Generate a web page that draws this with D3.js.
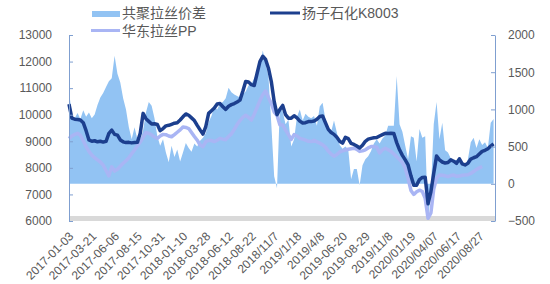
<!DOCTYPE html>
<html>
<head>
<meta charset="utf-8">
<script src="https://cdn.jsdelivr.net/npm/d3@7"></script>
<style>
  body { margin: 0; background: #fff; }
  svg { display: block; }
  text { font-family: "Liberation Sans", Arial, sans-serif; fill: #595959; }
  .legend text { font-family: "Liberation Sans", "Noto Sans CJK SC", sans-serif; }
</style>
</head>
<body>
<div id="chart"></div>
<script>
// x tick labels, one every 8 samples starting at sample 1
const tickLabels = [
  "2017-01-03", "2017-03-21", "2017-06-06", "2017-08-15", "2017-10-31",
  "2018-01-10", "2018-03-28", "2018-06-12", "2018-08-22", "2018/11/7",
  "2019/1/18", "2019/4/8", "2019-06-20", "2019-08-29", "2019/11/8",
  "2020/01/19", "2020/04/07", "2020/06/17", "2020/08/27"
];
const labelStart = 1;
const labelEvery = 8;

// 扬子石化K8003 (left axis)
const k8003 = [
  10400, 9870, 9830, 9820, 9800, 9700, 9400, 9050, 9000, 9020,
  8980, 9000, 8970, 9000, 9300, 9420, 9260, 9230, 9050, 8980,
  8950, 8960, 8940, 8950, 8960, 9300, 10050, 9850, 9750, 9650,
  9660, 9630, 9400, 9480, 9580, 9600, 9640, 9680, 9700, 9800,
  9920, 10030, 9980, 9880, 9780, 9600, 9430, 9270, 9550, 10050,
  10150, 10250, 10400, 10420, 10300, 10200, 10320, 10380, 10420, 10480,
  10550, 10880, 11250, 11230, 11130, 11100, 11550, 12000, 12200, 12080,
  11750, 11250, 10500, 10000, 10200, 10350, 10000, 9870, 9870, 9960,
  9880, 9760, 9690, 9700, 9740, 9740, 9760, 9830, 9930, 9950,
  9700, 9450, 9330, 9260, 9150, 9000, 8930, 9150, 9100, 8920,
  8880, 8820, 8750, 8850, 9000, 9080, 9110, 9130, 9140, 9200,
  9250, 9300, 9290, 9300, 9290, 8950, 8680, 8470, 8300, 8110,
  7700, 7350, 7350, 7560, 7640, 7650, 6650, 7100, 7800, 8450,
  8300, 8220, 8180, 8200, 8300, 8250, 8170, 8340, 8150, 8110,
  8170, 8330, 8380, 8420, 8520, 8620, 8660, 8720, 8820, 8900
];

// 华东拉丝PP (left axis)
const ppEast = [
  9100, 9200, 9260, 9300, 9230, 9020, 8800, 8620, 8480, 8380,
  8300, 8220, 8100, 7900, 7700, 8040, 7880, 7950, 8060, 8170,
  8270, 8380, 8530, 8670, 8820, 8970, 9150, 9330, 9300, 9240,
  9160, 9110, 9200, 9260, 9250, 9200, 9170, 9250, 9340, 9430,
  9540, 9520, 9480, 9330, 9180, 9040, 8860, 8800, 8990, 9040,
  9030, 8990, 9040, 9110, 9080, 9060, 9180, 9280, 9450, 9630,
  9780, 9900, 9980, 9900, 9800, 10020, 10270, 10530, 10750, 10900,
  10650, 10420, 10100, 9980, 9620, 9610, 9420, 9250, 9070, 9250,
  9200, 9110, 9080, 9040, 9000, 8990, 9040, 8980, 8930, 8870,
  8780, 8630, 8520, 8440, 8500, 8600, 8640, 8670, 8700, 8720,
  8740, 8700, 8620, 8640, 8680, 8750, 8800, 8800, 8780, 8560,
  8680, 8740, 8680, 8620, 8520, 8420, 8310, 8200, 7980, 7600,
  7150, 7000, 7100, 7160, 7110, 6850, 6100, 6300, 7200, 7620,
  7730, 7720, 7700, 7670, 7710, 7730, 7680, 7690, 7720, 7730,
  7740, 7790, 7860, 7940, 8000, 8050, null, null, null, null
];

// 共聚拉丝价差 (right axis)
const spread = [
  1250, 920, 880, 950, 870, 990, 900, 960, 880, 930,
  1060, 1160, 1220, 1300, 1380, 1420, 1720, 1480, 1360, 1150,
  1000, 760, 600, 760, 600, 580, 720, 960, 1100, 1050,
  880, 640, 510, 600, 420, 290, 510, 360, 460, 300,
  420, 550, 480, 430, 540, 500, 580, 620, 680, 830,
  910, 1040, 1000, 1080, 1100, 1150, 1290, 1230, 1200, 1180,
  1160, 1200, 1240, 1320, 1340, 1420, 1500, 1580, 1790, 1620,
  1440, 800, 100, -60, 1040, 970, 800, 860, 500, 600,
  900, 1000, 850, 940, 900, 880, 910, 780, 1040, 1090,
  860, 720, 700, 850, 690, 520, 470, 500, 460, 60,
  200, 200, -20, 250, 330, 370, 440, 540, 600, 540,
  610, 650, 780, 780, 780, 1450, 800, 700, 510, 330,
  640, 620, 300, 735, 620, 640, -480, -100, 800, 1100,
  600, 820, 450, 420, 340, 320, 320, 330, 290, 240,
  330, 560, 620, 480, 600, 520, 560, 480, 820, 870
];

const leftTicks = [6000, 7000, 8000, 9000, 10000, 11000, 12000, 13000];
const rightTicks = [-500, 0, 500, 1000, 1500, 2000];

const colors = {
  spread: "#92c3f3",
  k8003: "#1c3f8e",
  pp: "#a9b5f4",
  axis: "#7f9fd0",
  floor: "#d9d9d9"
};

const width = 550, height = 284;
const plot = { left: 69, right: 495, top: 35, bottom: 221 };

const svg = d3.select("#chart").append("svg")
  .attr("width", width)
  .attr("height", height);

// Scales
const xScale = d3.scaleLinear()
  .domain([0, k8003.length - 0.5])
  .range([plot.left, plot.right]);
const yLeft = d3.scaleLinear()
  .domain([6000, 13000])
  .range([plot.bottom, plot.top]);
const yRight = d3.scaleLinear()
  .domain([-500, 2000])
  .range([plot.bottom, plot.top]);

// floor band
svg.append("rect")
  .attr("x", plot.left)
  .attr("y", plot.bottom - 5)
  .attr("width", plot.right - plot.left)
  .attr("height", 5)
  .attr("fill", colors.floor);

// spread area
const area = d3.area()
  .x((d, i) => xScale(i))
  .y0(yRight(0))
  .y1((d) => yRight(d));
svg.append("path")
  .datum(spread)
  .attr("fill", colors.spread)
  .attr("d", area);

// lines
const line = (scale) => d3.line()
  .defined((d) => d !== null)
  .x((d, i) => xScale(i))
  .y((d) => scale(d));

svg.append("path")
  .datum(ppEast)
  .attr("fill", "none")
  .attr("stroke", colors.pp)
  .attr("stroke-width", 3.5)
  .attr("stroke-linejoin", "round")
  .attr("d", line(yLeft));

svg.append("path")
  .datum(k8003)
  .attr("fill", "none")
  .attr("stroke", colors.k8003)
  .attr("stroke-width", 3.5)
  .attr("stroke-linejoin", "round")
  .attr("d", line(yLeft));

// Axes
const leftAxis = d3.axisLeft(yLeft)
  .tickValues(leftTicks)
  .tickSizeInner(-4)
  .tickSizeOuter(0)
  .tickPadding(17)
  .tickFormat(d3.format("d"));
const leftG = svg.append("g")
  .attr("transform", `translate(${plot.left},0)`)
  .call(leftAxis);

const rightAxis = d3.axisRight(yRight)
  .tickValues(rightTicks)
  .tickSizeInner(-4)
  .tickSizeOuter(0)
  .tickPadding(13)
  .tickFormat(d3.format("d"));
const rightG = svg.append("g")
  .attr("transform", `translate(${plot.right},0)`)
  .call(rightAxis);

[leftG, rightG].forEach((g) => {
  g.select(".domain").attr("stroke", colors.axis);
  g.selectAll(".tick line").attr("stroke", colors.axis);
  g.selectAll(".tick text")
    .attr("fill", "#595959")
    .style("font-size", "12px");
});

const xAxis = d3.axisBottom(xScale)
  .tickValues(tickLabels.map((d, i) => labelStart + i * labelEvery))
  .tickSize(0)
  .tickFormat((d) => tickLabels[(d - labelStart) / labelEvery]);
const xG = svg.append("g")
  .attr("transform", `translate(0,${plot.bottom})`)
  .call(xAxis);
xG.select(".domain").remove();
xG.selectAll(".tick text")
  .attr("y", 0)
  .attr("dy", 0)
  .attr("text-anchor", "end")
  .attr("transform", "translate(2,16) rotate(-45)")
  .attr("fill", "#595959")
  .style("font-size", "12px");

// Legend
const legend = svg.append("g").attr("class", "legend").style("font-size", "14px");
legend.append("rect")
  .attr("x", 92).attr("y", 11)
  .attr("width", 28).attr("height", 6)
  .attr("fill", colors.spread);
legend.append("text")
  .attr("x", 122).attr("y", 13.5)
  .attr("dy", "0.35em")
  .text("共聚拉丝价差");

legend.append("line")
  .attr("x1", 270).attr("x2", 300)
  .attr("y1", 13).attr("y2", 13)
  .attr("stroke", colors.k8003)
  .attr("stroke-width", 3);
legend.append("text")
  .attr("x", 302).attr("y", 13.5)
  .attr("dy", "0.35em")
  .text("扬子石化K8003");

legend.append("line")
  .attr("x1", 91).attr("x2", 120)
  .attr("y1", 30.5).attr("y2", 30.5)
  .attr("stroke", colors.pp)
  .attr("stroke-width", 3);
legend.append("text")
  .attr("x", 122).attr("y", 31)
  .attr("dy", "0.35em")
  .text("华东拉丝PP");
</script>
</body>
</html>
